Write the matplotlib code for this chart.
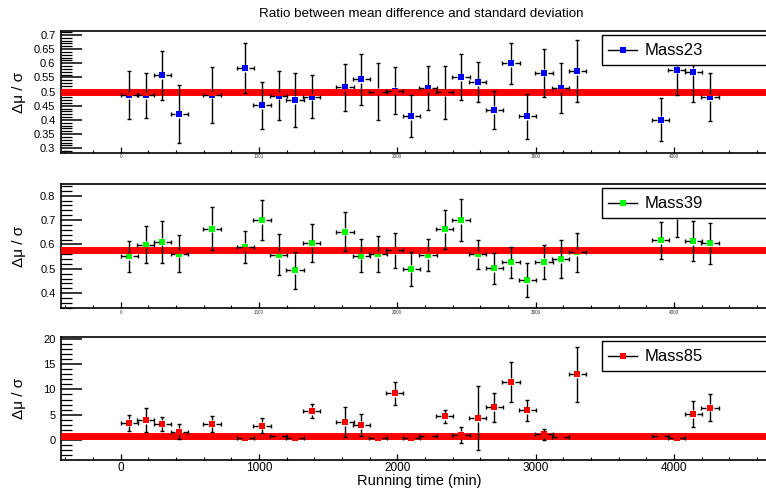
import matplotlib
matplotlib.use("Agg")
import matplotlib.pyplot as plt
from matplotlib.ticker import MultipleLocator, FormatStrFormatter
from matplotlib.patches import Rectangle
from matplotlib.lines import Line2D
from matplotlib.collections import LineCollection

plt.rcParams['font.family'] = ['Liberation Sans', 'DejaVu Sans']

# ---------------- data ----------------
time = [62, 181, 301, 422, 660, 901, 1022, 1142, 1260, 1381, 1622, 1740, 1860, 1980,
        2101, 2222, 2342, 2461, 2581, 2702, 2822, 2940, 3061, 3181, 3302, 3904, 4020,
        4141, 4261]
time_err = [62] * len(time)

mass23 = [0.487, 0.487, 0.557, 0.420, 0.489, 0.582, 0.452, 0.486, 0.470, 0.482, 0.515,
          0.543, 0.500, 0.503, 0.413, 0.512, 0.497, 0.551, 0.533, 0.435, 0.600, 0.413,
          0.566, 0.512, 0.572, 0.401, 0.577, 0.570, 0.480]
mass23_err = [0.085, 0.079, 0.088, 0.102, 0.099, 0.088, 0.083, 0.085, 0.094, 0.077, 0.083,
              0.089, 0.100, 0.083, 0.075, 0.077, 0.094, 0.080, 0.070, 0.066, 0.072, 0.080,
              0.086, 0.088, 0.109, 0.077, 0.090, 0.108, 0.085]

mass39 = [0.552, 0.599, 0.611, 0.562, 0.665, 0.590, 0.699, 0.557, 0.494, 0.605, 0.652,
          0.554, 0.560, 0.576, 0.500, 0.557, 0.662, 0.700, 0.560, 0.502, 0.527, 0.453,
          0.528, 0.539, 0.568, 0.617, 0.720, 0.613, 0.605]
mass39_err = [0.063, 0.075, 0.085, 0.075, 0.089, 0.067, 0.082, 0.084, 0.075, 0.078, 0.080,
              0.068, 0.073, 0.072, 0.070, 0.066, 0.081, 0.086, 0.059, 0.063, 0.063, 0.070,
              0.070, 0.078, 0.081, 0.075, 0.090, 0.082, 0.085]

mass85 = [3.43, 3.89, 3.23, 1.65, 3.23, 0.33, 2.84, 0.86, 0.33, 5.74, 3.50, 2.97, 0.46,
          9.24, 0.33, 0.86, 4.69, 0.99, 4.29, 6.47, 11.49, 5.87, 1.12, 0.66, 13.0, 0.79,
          0.46, 5.15, 6.40]
mass85_err = [1.6, 2.4, 1.4, 1.5, 1.6, 0.35, 1.45, 0.55, 0.3, 1.45, 2.95, 2.1, 0.2, 2.3,
              0.3, 0.2, 1.25, 1.5, 6.3, 2.9, 4.0, 2.1, 1.1, 0.2, 5.4, 0.3, 0.4, 2.5, 2.6]

mean_levels = [0.5, 0.576, 0.79]
labels = ["Mass23", "Mass39", "Mass85"]
colors = ["#0000ff", "#00ff00", "#ff0000"]
series = [(mass23, mass23_err), (mass39, mass39_err), (mass85, mass85_err)]

# ---------------- layout ----------------
W, H = 766, 491
fig = plt.figure(figsize=(W / 100, H / 100), dpi=100)

# (top_px, bottom_px, ylim, major, minor, tick format)
panels = [
    (31, 153, (0.283, 0.714), 0.05, 0.01, '%g'),
    (184.3, 308.3, (0.338, 0.847), 0.1, 0.02, '%g'),
    (337.3, 460, (-3.96, 20.3), 5, 1, '%g'),
]
left_px, right_px = 61, 783
xlim = (-432, 4789)
GAP = 3.6    # px, half marker size: ROOT leaves the marker free of error lines
CAP = 2.0    # px, half length of end caps


def error_segments(xs, ys, exs, eys, sx, sy):
    """Build error-bar segments with a gap around the marker (data units)."""
    gx, gy = GAP / sx, GAP / sy
    cx, cy = CAP / sx, CAP / sy
    segs = []
    for x, y, ex, ey in zip(xs, ys, exs, eys):
        if ex > gx:
            segs.append([(x - ex, y), (x - gx, y)])
            segs.append([(x + gx, y), (x + ex, y)])
            segs.append([(x - ex, y - cy), (x - ex, y + cy)])
            segs.append([(x + ex, y - cy), (x + ex, y + cy)])
        if ey > gy:
            segs.append([(x, y - ey), (x, y - gy)])
            segs.append([(x, y + gy), (x, y + ey)])
            segs.append([(x - cx, y - ey), (x + cx, y - ey)])
            segs.append([(x - cx, y + ey), (x + cx, y + ey)])
    return segs


for i, ((top, bot, ylim, maj, mnr, fmt), (vals, errs), lab, col, lvl) in enumerate(
        zip(panels, series, labels, colors, mean_levels)):
    ax = fig.add_axes([left_px / W, 1 - bot / H, (right_px - left_px) / W, (bot - top) / H])
    ax.set_xlim(*xlim)
    ax.set_ylim(*ylim)
    sx = (right_px - left_px) / (xlim[1] - xlim[0])
    sy = (bot - top) / (ylim[1] - ylim[0])

    # markers (below the mean line), mean line, error bars (on top)
    ax.plot(time, vals, 's', color=col, markersize=5, markeredgewidth=0, zorder=2)
    ax.axhline(lvl, color='#ff0000', lw=5.0, zorder=3)
    ax.add_collection(LineCollection(error_segments(time, vals, time_err, errs, sx, sy),
                                     colors='black', linewidths=1.0, zorder=4))

    for s in ax.spines.values():
        s.set_linewidth(1.2)
    ax.xaxis.set_major_locator(MultipleLocator(1000))
    ax.xaxis.set_minor_locator(MultipleLocator(200))
    ax.yaxis.set_major_locator(MultipleLocator(maj))
    ax.yaxis.set_minor_locator(MultipleLocator(mnr))
    ax.yaxis.set_major_formatter(FormatStrFormatter(fmt))
    ax.tick_params(axis='x', which='major', direction='in', length=4.3, width=0.9)
    ax.tick_params(axis='x', which='minor', direction='in', length=2.2, width=0.8)
    ax.tick_params(axis='y', which='major', direction='in', length=15, width=1.1,
                   labelsize=8, pad=4)
    ax.tick_params(axis='y', which='minor', direction='in', length=8, width=0.9)
    if i < 2:
        ax.tick_params(axis='x', which='major', labelsize=3.3, pad=1, labelcolor='#333333')
    else:
        ax.tick_params(axis='x', which='major', labelsize=8.5, pad=1.5)
        fig.text(419 / W, 1 - 485 / H, "Running time (min)", ha='center', va='baseline',
                 fontsize=10.5)

    ax.set_ylabel("Δμ / σ", fontsize=11)
    ax.yaxis.set_label_coords(-(left_px - 26) / (right_px - left_px), 0.5)

    # legend box (drawn manually, runs off the right edge like the original)
    ltop = top + 4
    lbot = ltop + 30
    lx0 = 602
    fig.add_artist(Rectangle((lx0 / W, 1 - lbot / H), (820 - lx0) / W, (lbot - ltop) / H,
                             transform=fig.transFigure, facecolor='white',
                             edgecolor='black', lw=1.0, zorder=10))
    ym = 1 - (ltop + lbot) / 2 / H
    fig.add_artist(Line2D([608 / W, 637 / W], [ym, ym], transform=fig.transFigure,
                          color='black', lw=1.0, zorder=11))
    fig.add_artist(Line2D([622.5 / W], [ym], transform=fig.transFigure, marker='s',
                          color=col, markersize=5, markeredgewidth=0, zorder=12))
    fig.text(645 / W, ym, lab, fontsize=12, va='center', ha='left', zorder=13)

fig.text(421 / W, 1 - 14 / H, "Ratio between mean difference and standard deviation",
         ha='center', va='center', fontsize=9.6)

fig.savefig("out.png", dpi=100)
